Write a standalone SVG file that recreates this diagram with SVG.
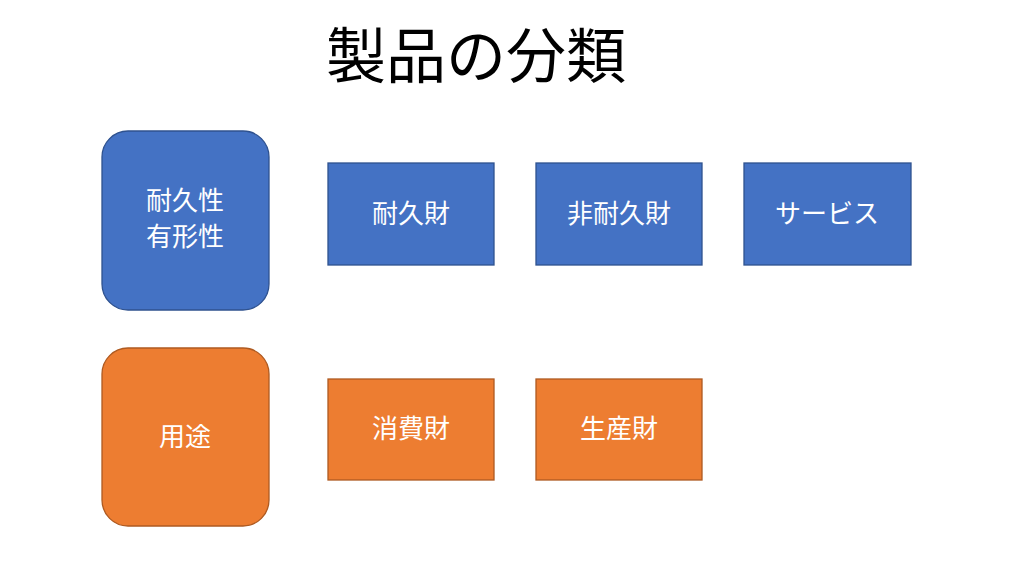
<svg xmlns="http://www.w3.org/2000/svg" width="1024" height="576" viewBox="0 0 1024 576">
<style>
text{font-family:"Noto Sans CJK JP","Noto Sans CJK SC",sans-serif;text-anchor:middle;}
.l{fill:#fff;font-size:26px;}
.b{fill:#4472C4;stroke:#2F528F;stroke-width:1.3;}
.o{fill:#ED7D31;stroke:#AE5A21;stroke-width:1.3;}
</style>
<rect width="1024" height="576" fill="#fff"/>
<text x="476" y="78" font-size="60" fill="#000">製品の分類</text>
<g id="durability"><rect class="b" x="102" y="131" width="167" height="179" rx="26"/><text class="l" x="185" y="210">耐久性</text><text class="l" x="185" y="246">有形性</text></g>
<g id="durable"><rect class="b" x="328" y="163" width="166" height="102"/><text class="l" x="411" y="223">耐久財</text></g>
<g id="nondurable"><rect class="b" x="536" y="163" width="166" height="102"/><text class="l" x="619" y="223">非耐久財</text></g>
<g id="service"><rect class="b" x="744" y="163" width="167" height="102"/><text class="l" x="827" y="223">サービス</text></g>
<g id="usage"><rect class="o" x="102" y="348" width="167" height="178" rx="26"/><text class="l" x="185" y="446">用途</text></g>
<g id="consumer"><rect class="o" x="328" y="379" width="166" height="101"/><text class="l" x="411" y="438">消費財</text></g>
<g id="industrial"><rect class="o" x="536" y="379" width="166" height="101"/><text class="l" x="619" y="438">生産財</text></g>
<g id="connectors"/>
</svg>
